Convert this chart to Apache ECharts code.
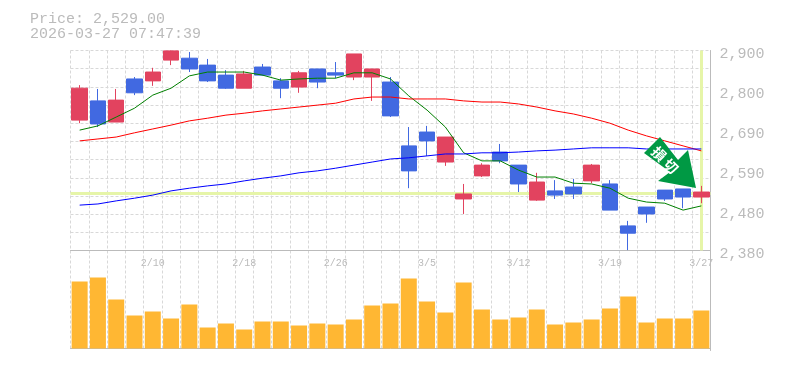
<!DOCTYPE html>
<html>
<head>
<meta charset="utf-8">
<style>
html, body { margin: 0; padding: 0; background: #fff; }
#chartmain { width: 785px; height: 370px; }
</style>
<script src="https://cdn.jsdelivr.net/npm/echarts@6/dist/echarts.min.js"></script>
</head>
<body>
<div id="chartmain"></div>
<script>
var dates = ['2/4', '2/5', '2/6', '2/9', '2/10', '2/12', '2/13', '2/16', '2/17', '2/18',
	'2/19', '2/20', '2/24', '2/25', '2/26', '2/27', '3/2', '3/3', '3/4', '3/5',
	'3/6', '3/9', '3/10', '3/11', '3/12', '3/13', '3/16', '3/17', '3/18', '3/19',
	'3/23', '3/24', '3/25', '3/26', '3/27'];
var opens = [2719, 2769, 2714, 2826, 2821, 2875, 2880, 2862, 2836, 2802,
	2857, 2821, 2805, 2852, 2842, 2831, 2831, 2818, 2652, 2688,
	2610, 2514, 2574, 2636, 2602, 2511, 2535, 2545, 2561, 2553,
	2444, 2493, 2537, 2540, 2519];
var closes = [2802, 2709, 2771, 2790, 2844, 2899, 2852, 2821, 2802, 2839,
	2836, 2802, 2842, 2818, 2836, 2891, 2852, 2730, 2587, 2665,
	2675, 2527, 2602, 2613, 2553, 2558, 2524, 2527, 2602, 2485,
	2425, 2475, 2514, 2519, 2532];
var lows = [2711, 2701, 2714, 2784, 2808, 2862, 2844, 2818, 2800, 2802,
	2834, 2776, 2790, 2802, 2828, 2823, 2769, 2727, 2542, 2626,
	2600, 2475, 2571, 2607, 2532, 2509, 2514, 2514, 2555, 2485,
	2381, 2452, 2509, 2490, 2503];
var highs = [2810, 2800, 2800, 2831, 2855, 2900, 2896, 2878, 2849, 2847,
	2865, 2828, 2847, 2852, 2870, 2891, 2852, 2831, 2701, 2704,
	2675, 2553, 2607, 2657, 2602, 2582, 2563, 2566, 2605, 2563,
	2457, 2493, 2537, 2540, 2548];
var maShort = [2693, 2704, 2727, 2750, 2784, 2802, 2834, 2844, 2844, 2844,
	2836, 2823, 2826, 2828, 2828, 2842, 2842, 2826, 2782, 2745,
	2701, 2634, 2613, 2613, 2589, 2571, 2571, 2555, 2553, 2542,
	2516, 2506, 2503, 2485, 2496];
var maMid = [2665, 2670, 2675, 2686, 2696, 2706, 2717, 2724, 2732, 2737,
	2743, 2748, 2753, 2758, 2763, 2774, 2779, 2779, 2774, 2774,
	2774, 2769, 2766, 2766, 2761, 2753, 2743, 2735, 2724, 2711,
	2693, 2678, 2665, 2652, 2639];
var maLong = [2498, 2501, 2509, 2516, 2524, 2535, 2542, 2548, 2553, 2561,
	2568, 2574, 2582, 2587, 2594, 2602, 2610, 2618, 2621, 2626,
	2631, 2631, 2634, 2634, 2636, 2639, 2641, 2644, 2647, 2647,
	2647, 2644, 2644, 2644, 2644];
var volumes = [67, 71, 49, 33, 37, 30, 44, 21, 25, 19,
	27, 27, 23, 25, 24, 29, 43, 45, 70, 47,
	36, 66, 39, 29, 31, 39, 24, 26, 29, 40,
	52, 26, 30, 30, 38];
var priceTicks = [2900, 2796, 2692, 2588, 2484, 2380];
var priceLabels = ['2,900', '2,800', '2,690', '2,590', '2,480', '2,380'];
var lastPrice = 2530;

var gray = '#bbbbbb';
var dash = { color : '#d8d8d8', type : [ 3, 2 ], width : 1 };
var mono = '"Liberation Mono", monospace';

var candles = [];
for (var i = 0; i < dates.length; i++) {
	candles.push([ opens[i], closes[i], lows[i], highs[i] ]);
}

function maLine(name, data, color) {
	return {
		name : name,
		type : 'line',
		data : data,
		symbol : 'none',
		z : 4,
		silent : true,
		lineStyle : { color : color, width : 1 }
	};
}

var option = {
	animation : false,
	backgroundColor : '#fff',
	title : {
		text : 'Price: 2,529.00\n2026-03-27 07:47:39',
		left : 30,
		top : 12,
		padding : 0,
		textStyle : {
			color : gray,
			fontFamily : mono,
			fontWeight : 'normal',
			fontSize : 15,
			lineHeight : 15
		}
	},
	grid : [
		{ left : 70.5, width : 640, top : 50.5, height : 200 },
		{ left : 70.5, width : 640, top : 250.5, height : 100 }
	],
	xAxis : [ {
		type : 'category',
		gridIndex : 0,
		data : dates,
		axisLine : { lineStyle : { color : gray } },
		axisTick : { show : false },
		splitLine : { show : true, interval : 0, lineStyle : dash },
		axisLabel : {
			color : gray,
			fontFamily : mono,
			fontSize : 10,
			margin : 8,
			hideOverlap : false,
			interval : function(index) {
				return (index + 1) % 5 === 0;
			}
		}
	}, {
		type : 'category',
		gridIndex : 1,
		data : dates,
		axisLine : { lineStyle : { color : gray, width : 1 } },
		axisTick : { show : false },
		axisLabel : { show : false },
		splitLine : { show : true, interval : 0, lineStyle : dash }
	} ],
	yAxis : [ {
		type : 'value',
		gridIndex : 0,
		position : 'right',
		min : 2380,
		max : 2900,
		axisLine : { show : true, lineStyle : { color : gray } },
		axisTick : { show : false },
		splitLine : { show : false },
		axisLabel : {
			customValues : priceTicks,
			color : gray,
			fontFamily : mono,
			fontSize : 15,
			margin : 9,
			verticalAlign : 'top',
			lineHeight : 7,
			formatter : function(value) {
				return priceLabels[priceTicks.indexOf(value)];
			}
		}
	}, {
		// only draws the dashed rows of the price panel
		type : 'value',
		gridIndex : 0,
		position : 'left',
		min : 0,
		max : 11,
		interval : 1,
		axisLine : { show : false },
		axisTick : { show : false },
		axisLabel : { show : false },
		splitLine : { show : true, lineStyle : dash }
	}, {
		type : 'value',
		gridIndex : 1,
		position : 'right',
		min : -2,
		max : 98,
		axisLine : { show : true, lineStyle : { color : gray } },
		axisTick : { show : false },
		axisLabel : { show : false },
		splitLine : { show : false }
	} ],
	series : [ {
		name : 'guide',
		type : 'line',
		xAxisIndex : 0,
		yAxisIndex : 0,
		data : [],
		z : 1,
		silent : true,
		markLine : {
			silent : true,
			z : 1,
			symbol : 'none',
			label : { show : false },
			lineStyle : { color : '#e6f5a8', type : 'solid', width : 3 },
			data : [ { yAxis : lastPrice }, { xAxis : dates[dates.length - 1] } ]
		}
	}, {
		name : 'price',
		type : 'candlestick',
		xAxisIndex : 0,
		yAxisIndex : 0,
		data : candles,
		barWidth : 16,
		z : 3,
		itemStyle : {
			color : '#e2435f',
			color0 : '#4169e1',
			borderColor : '#e2435f',
			borderColor0 : '#4169e1',
			borderWidth : 1
		}
	}, maLine('short', maShort, '#008000'), maLine('mid', maMid, '#ff0000'), maLine('long', maLong, '#0000ff'), {
		name : 'volume',
		type : 'bar',
		xAxisIndex : 1,
		yAxisIndex : 2,
		data : volumes,
		barWidth : 16,
		itemStyle : { color : '#ffb733' }
	} ],
	graphic : [ {
		type : 'polygon',
		z : 20,
		shape : {
			points : [ [ 660, 137 ], [ 644, 153 ], [ 670, 172 ], [ 658, 181 ], [ 696, 188 ], [ 688, 150 ], [ 678, 160 ] ]
		},
		style : { fill : '#009944' }
	}, {
		type : 'text',
		z : 21,
		x : 665,
		y : 160,
		rotation : -Math.PI / 4,
		style : {
			text : '損 切',
			fill : '#fff',
			fontFamily : '"Noto Sans CJK JP"',
			fontWeight : 'bold',
			fontSize : 14,
			align : 'center',
			verticalAlign : 'middle'
		}
	} ]
};

var myChart = echarts.init(document.getElementById('chartmain'));
myChart.setOption(option);
</script>
</body>
</html>
